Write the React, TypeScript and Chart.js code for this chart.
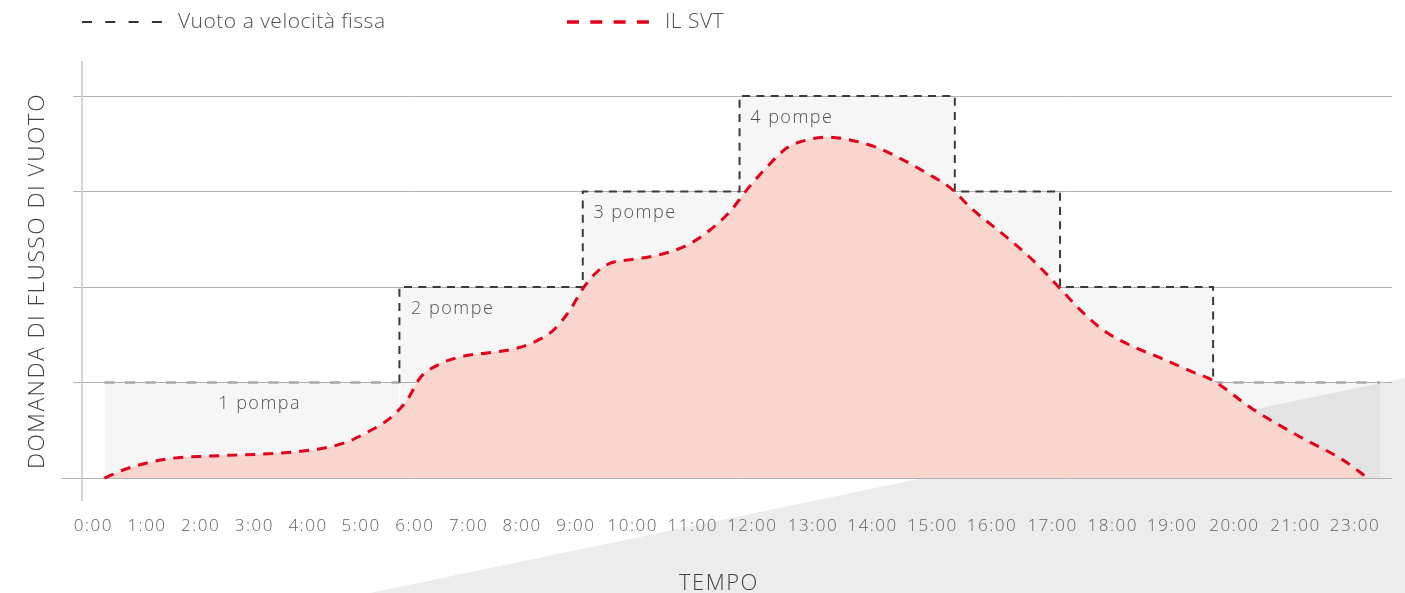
import React, { useEffect, useRef } from 'react';
import { Chart, registerables } from 'chart.js';

Chart.register(...registerables);

const FONT = "'Open Sans', 'Noto Sans', sans-serif";

// X axis tick labels (22:00 is absent in the original) and where they sit, in hours
const tickLabels = ['0:00', '1:00', '2:00', '3:00', '4:00', '5:00', '6:00', '7:00', '8:00', '9:00', '10:00', '11:00', '12:00', '13:00', '14:00', '15:00', '16:00', '17:00', '18:00', '19:00', '20:00', '21:00', '23:00'];
const tickHours = [-0.21, 0.8, 1.81, 2.82, 3.83, 4.83, 5.84, 6.85, 7.86, 8.87, 9.94, 11.07, 12.19, 13.33, 14.45, 15.58, 16.7, 17.84, 18.97, 20.09, 21.26, 22.41, 23.53];
const yTicks = [0, 1, 2, 3, 4];

// IL SVT vacuum demand curve
const curveHours = [0, 0.43, 1.18, 1.99, 2.93, 3.69, 4.19, 4.57, 4.95, 5.38, 5.7, 5.94, 6.26, 6.7, 7.2, 7.69, 8.07, 8.45, 8.76, 9.01, 9.27, 9.52, 9.95, 10.46, 10.97, 11.4, 11.77, 12.09, 12.47, 12.85, 13.22, 13.6, 14.03, 14.54, 15.03, 15.48, 15.91, 16.34, 16.98, 17.47, 18.04, 18.36, 18.79, 19.3, 19.86, 20.48, 20.86, 21.61, 22.5, 23.3, 23.77];
const svtDemand = [0, 0.1, 0.2, 0.23, 0.25, 0.28, 0.32, 0.38, 0.48, 0.63, 0.82, 1.05, 1.18, 1.27, 1.31, 1.35, 1.42, 1.55, 1.76, 1.99, 2.16, 2.25, 2.29, 2.34, 2.44, 2.6, 2.79, 3.02, 3.26, 3.46, 3.54, 3.57, 3.54, 3.46, 3.33, 3.19, 3.04, 2.81, 2.52, 2.28, 1.95, 1.76, 1.55, 1.39, 1.26, 1.11, 1.02, 0.72, 0.43, 0.19, 0];

// Fixed-speed vacuum: number of pumps running
const stepStarts = [0, 5.55, 9.0, 11.95, 16.0, 17.98, 20.86];
const stepEnd = 24;
const pumpLevels = [1, 2, 3, 4, 3, 2, 1];

// Pump annotations
const pumpLabels = ['1 pompa', '2 pompe', '3 pompe', '4 pompe'];
const pumpLabelHours = [2.14, 5.77, 9.2, 12.15];
const pumpLabelLevels = [1, 2, 3, 4];

const legendLabels = ['Vuoto a velocità fissa', 'IL SVT'];
const yTitle = 'DOMANDA DI FLUSSO DI VUOTO';
const xTitle = 'TEMPO';

const STEP_COLOR = '#3a3a3a';
const STEP_BASE_COLOR = '#a8a8a8';
const SVT_COLOR = '#e2001a';

export default function App() {
  const ref = useRef<HTMLCanvasElement>(null);

  useEffect(() => {
    const canvas = ref.current;
    if (!canvas) return;

    const stepPoints: { x: number; y: number }[] = [];
    pumpLevels.forEach((lvl, i) => {
      const end = i + 1 < stepStarts.length ? stepStarts[i + 1] : stepEnd;
      stepPoints.push({ x: stepStarts[i], y: lvl }, { x: end, y: lvl });
    });
    const svtPoints = curveHours.map((h, i) => ({ x: h, y: svtDemand[i] }));
    const isBase = (c: any) => c.p0.parsed.y === 1 && c.p1.parsed.y === 1;

    const spacingPlugin = {
      id: 'spacing',
      beforeUpdate(chart: any) {
        chart.ctx.letterSpacing = '1.5px';
      },
      beforeDraw(chart: any) {
        const ctx = chart.ctx;
        ctx.letterSpacing = '1.5px';
        const w = chart.width;
        const h = chart.height;
        ctx.save();
        ctx.fillStyle = '#ececec';
        ctx.beginPath();
        ctx.moveTo(w * 0.2633, h);
        ctx.lineTo(w, h * 0.6375);
        ctx.lineTo(w, h);
        ctx.closePath();
        ctx.fill();
        ctx.restore();
      },
    };

    const overlayPlugin = {
      id: 'overlay',
      afterDraw(chart: any) {
        const ctx = chart.ctx;
        const xs = chart.scales.x;
        const ys = chart.scales.y;
        // pump labels
        ctx.save();
        ctx.font = `300 18px ${FONT}`;
        ctx.letterSpacing = '1.5px';
        ctx.fillStyle = '#505050';
        ctx.textAlign = 'left';
        ctx.textBaseline = 'middle';
        pumpLabels.forEach((t, i) => {
          ctx.fillText(t, xs.getPixelForValue(pumpLabelHours[i]), ys.getPixelForValue(pumpLabelLevels[i]) + 21.5);
        });
        ctx.restore();

        // legend
        ctx.save();
        ctx.lineCap = 'butt';
        ctx.strokeStyle = '#333333';
        ctx.lineWidth = 2;
        ctx.setLineDash([10, 13.3]);
        ctx.beginPath();
        ctx.moveTo(82, 22);
        ctx.lineTo(162, 22);
        ctx.stroke();
        ctx.strokeStyle = SVT_COLOR;
        ctx.lineWidth = 3.5;
        ctx.setLineDash([12, 11.3]);
        ctx.beginPath();
        ctx.moveTo(567, 22);
        ctx.lineTo(650, 22);
        ctx.stroke();
        ctx.setLineDash([]);
        ctx.font = `300 21px ${FONT}`;
        ctx.letterSpacing = '0.5px';
        ctx.fillStyle = '#505050';
        ctx.textAlign = 'left';
        ctx.textBaseline = 'middle';
        ctx.fillText(legendLabels[0], 178, 22);
        ctx.fillText(legendLabels[1], 665, 22);

        // x axis title
        ctx.font = `300 22px ${FONT}`;
        ctx.letterSpacing = '1.5px';
        ctx.fillStyle = '#404040';
        ctx.textAlign = 'center';
        ctx.fillText(xTitle, 719, 584);
        ctx.restore();
      },
    };

    const chart = new Chart(canvas, {
      type: 'line',
      data: {
        datasets: [
          {
            label: legendLabels[1],
            data: svtPoints,
            borderColor: SVT_COLOR,
            borderWidth: 3,
            borderDash: [10, 8],
            backgroundColor: '#f8d6ce',
            fill: 'origin',
            pointRadius: 0,
            cubicInterpolationMode: 'monotone',
            order: 0,
          },
          {
            label: legendLabels[0],
            data: stepPoints,
            borderColor: STEP_COLOR,
            borderWidth: 2,
            borderDash: [8, 6.3],
            backgroundColor: 'rgba(0,0,0,0.035)',
            fill: 'origin',
            pointRadius: 0,
            tension: 0,
            order: 1,
            segment: {
              borderColor: (c: any) => (isBase(c) ? STEP_BASE_COLOR : STEP_COLOR),
              borderDash: (c: any) => (isBase(c) ? [10, 10.5] : [8, 6.3]),
              borderWidth: (c: any) => (isBase(c) ? 2.5 : 2),
            },
          },
        ],
      },
      options: {
        animation: false,
        responsive: false,
        devicePixelRatio: 1,
        parsing: false,
        normalized: true,
        layout: { padding: { top: 62, right: 13, bottom: 56.6, left: 0 } },
        plugins: {
          legend: { display: false },
          tooltip: { enabled: false },
        },
        scales: {
          x: {
            type: 'linear',
            min: -0.414,
            max: 24.226,
            afterBuildTicks: (s: any) => {
              s.ticks = tickHours.map((v) => ({ value: v }));
            },
            ticks: {
              autoSkip: false,
              maxRotation: 0,
              minRotation: 0,
              padding: 0,
              color: '#606060',
              font: { family: FONT, size: 17, weight: '300' as any },
              callback: (_v: any, i: number) => tickLabels[i],
            },
            grid: {
              display: true,
              drawOnChartArea: false,
              drawTicks: true,
              tickLength: 16,
              tickColor: 'rgba(0,0,0,0)',
            },
            border: { display: false },
          },
          y: {
            type: 'linear',
            min: -0.23,
            max: 4.356,
            z: 1,
            afterBuildTicks: (s: any) => {
              s.ticks = yTicks.map((v) => ({ value: v }));
            },
            ticks: { display: false },
            grid: {
              color: '#b3b3b3',
              lineWidth: 1,
              drawTicks: true,
              tickLength: 21,
              tickColor: '#b3b3b3',
              tickBorderDash: (c: any) => (c.tick && c.tick.value === 0 ? [] : [0, 12, 20, 0]),
            },
            border: { display: true, color: '#d2d2d2', width: 2 },
            title: {
              display: true,
              text: yTitle,
              color: '#404040',
              font: { family: FONT, size: 22.7, weight: '300' as any },
              padding: { top: 23.6, bottom: 10.6 },
            },
          },
        },
      },
      plugins: [spacingPlugin, overlayPlugin],
    });

    return () => chart.destroy();
  }, []);

  return (
    <div style={{ position: 'fixed', left: 0, top: 0, width: 1405, height: 593, background: '#ffffff' }}>
      <canvas ref={ref} width={1405} height={593} style={{ display: 'block', width: 1405, height: 593 }} />
    </div>
  );
}
